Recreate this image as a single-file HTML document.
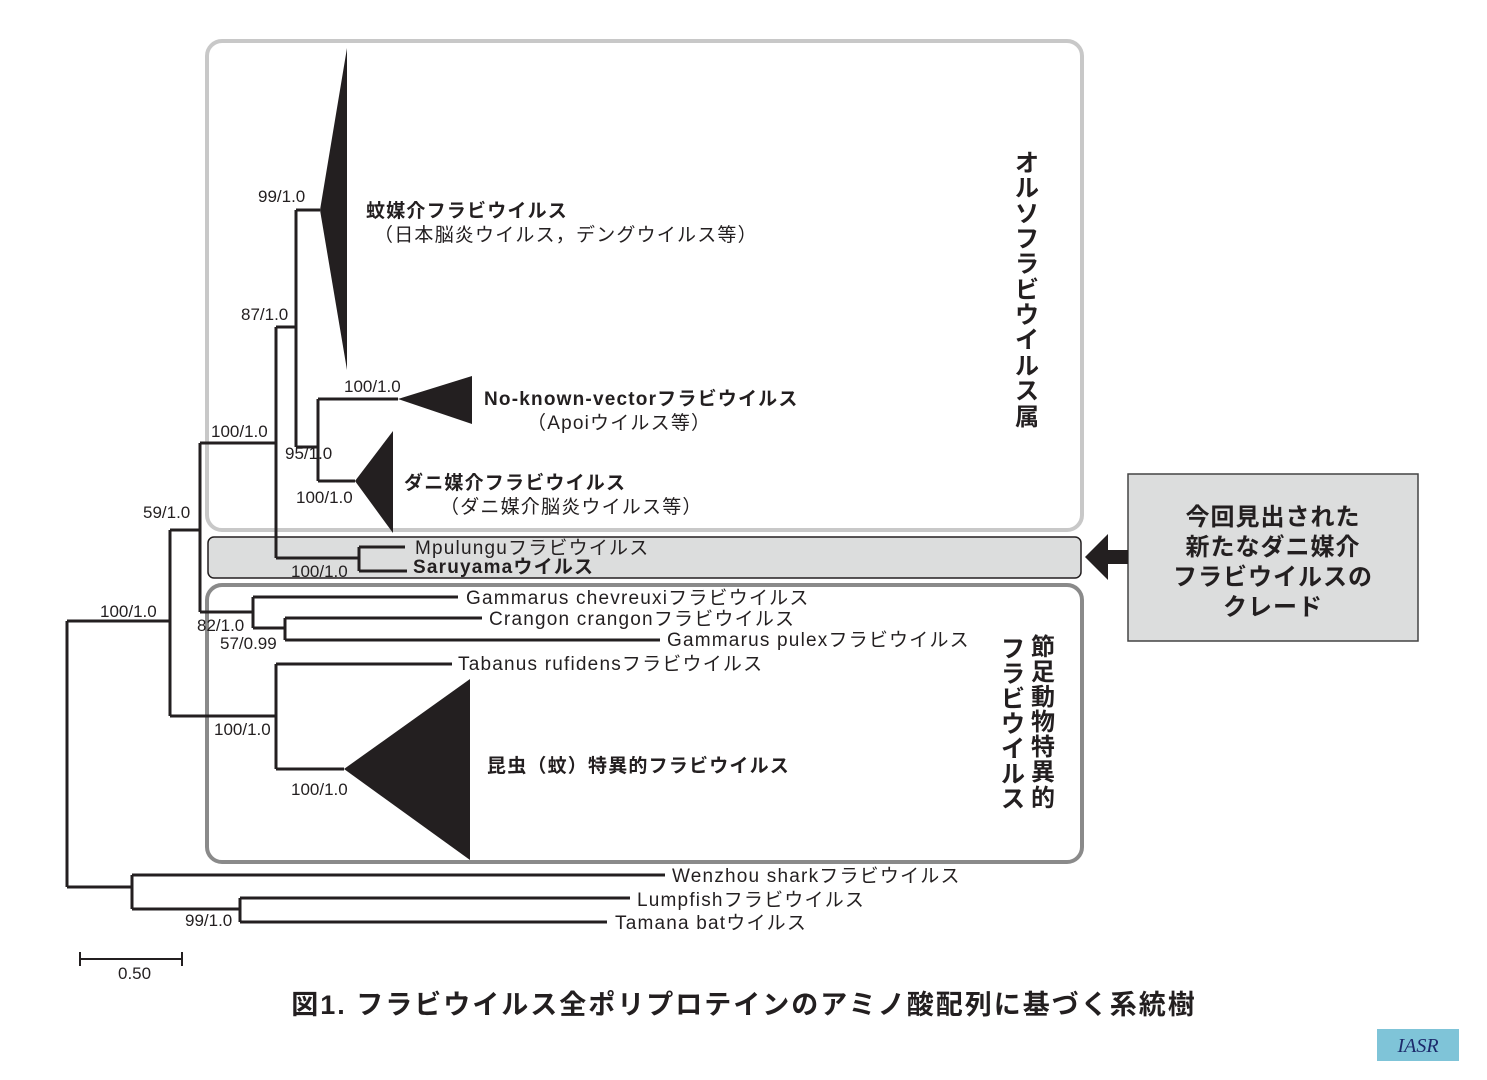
<!DOCTYPE html>
<html><head><meta charset="utf-8"><style>
html,body{margin:0;padding:0;background:#fff;}
svg{display:block;font-family:"Liberation Sans","Noto Sans CJK JP",sans-serif;}
.l{font-size:17px;fill:#231f20;}
.t{font-size:19px;fill:#231f20;letter-spacing:1.2px;}
.b{font-size:19px;font-weight:bold;fill:#231f20;letter-spacing:1.2px;}
.v{font-size:24px;font-weight:bold;fill:#231f20;}
</style></head><body>
<svg width="1487" height="1080" viewBox="0 0 1487 1080" xmlns="http://www.w3.org/2000/svg">
<rect x="207" y="41" width="875" height="489" rx="15" fill="none" stroke="#c8c8c8" stroke-width="4"/>
<rect x="208" y="537" width="873" height="41" rx="6" fill="#dcdddd" stroke="#231f20" stroke-width="1.5"/>
<rect x="207" y="585" width="875" height="277" rx="15" fill="none" stroke="#8a8a8a" stroke-width="4"/>
<rect x="1128" y="474" width="290" height="167" fill="#dcdddd" stroke="#444" stroke-width="1.5"/>
<polygon points="1128,550 1108,550 1108,534 1085,557 1108,580 1108,564 1128,564" fill="#231f20"/>
<g stroke="#231f20" stroke-width="3" fill="none">
<path d="M67,621V887 M67,621H170 M67,887H132"/>
<path d="M170,530V716 M170,530H200 M170,716H276"/>
<path d="M200,443V612 M200,443H276 M200,612H253"/>
<path d="M276,327V558 M276,327H296 M276,558H359"/>
<path d="M296,210V447 M296,210H320 M296,447H318"/>
<path d="M318,399V481 M318,399H398 M318,481H355"/>
<path d="M359,547V571 M359,547H405 M359,571H407"/>
<path d="M253,597V628 M253,597H458 M253,628H285"/>
<path d="M285,618V640 M285,618H482 M285,640H660"/>
<path d="M276,664V769 M276,664H452 M276,769H344"/>
<path d="M132,875V909 M132,875H665 M132,909H240"/>
<path d="M240,898V922 M240,898H630 M240,922H607"/>
<path d="M79,959H183 M80,952V966 M182,952V966" stroke-width="2"/>
</g>
<g fill="#231f20">
<polygon points="320,210 347,48 347,370"/>
<polygon points="398,399 472,376 472,424"/>
<polygon points="355,481 393,431 393,533"/>
<polygon points="344,769 470,679 470,860"/>
</g>
<g class="l">
<text x="258" y="202">99/1.0</text>
<text x="241" y="320">87/1.0</text>
<text x="211" y="437">100/1.0</text>
<text x="344" y="392">100/1.0</text>
<text x="285" y="459">95/1.0</text>
<text x="296" y="503">100/1.0</text>
<text x="143" y="518">59/1.0</text>
<text x="291" y="577">100/1.0</text>
<text x="100" y="617">100/1.0</text>
<text x="197" y="631">82/1.0</text>
<text x="220" y="649">57/0.99</text>
<text x="214" y="735">100/1.0</text>
<text x="291" y="795">100/1.0</text>
<text x="185" y="926">99/1.0</text>
<text x="118" y="979">0.50</text>
</g>
<text class="b" x="366" y="217">蚊媒介フラビウイルス</text>
<text class="t" x="374" y="241">（日本脳炎ウイルス，デングウイルス等）</text>
<text class="b" x="484" y="405">No-known-vectorフラビウイルス</text>
<text class="t" x="527" y="429">（Apoiウイルス等）</text>
<text class="b" x="404" y="489">ダニ媒介フラビウイルス</text>
<text class="t" x="440" y="513">（ダニ媒介脳炎ウイルス等）</text>
<text class="t" x="415" y="554">Mpulunguフラビウイルス</text>
<text class="b" x="413" y="573">Saruyamaウイルス</text>
<text class="t" x="466" y="604">Gammarus chevreuxiフラビウイルス</text>
<text class="t" x="489" y="625">Crangon crangonフラビウイルス</text>
<text class="t" x="667" y="646">Gammarus pulexフラビウイルス</text>
<text class="t" x="458" y="670">Tabanus rufidensフラビウイルス</text>
<text class="b" x="487" y="772">昆虫（蚊）特異的フラビウイルス</text>
<text class="t" x="672" y="882">Wenzhou sharkフラビウイルス</text>
<text class="t" x="637" y="906">Lumpfishフラビウイルス</text>
<text class="t" x="615" y="929">Tamana batウイルス</text>
<g class="v" text-anchor="middle">
<text x="1027" y="171">オ</text><text x="1027" y="196">ル</text><text x="1027" y="222">ソ</text><text x="1027" y="247">フ</text><text x="1027" y="272">ラ</text><text x="1027" y="298">ビ</text><text x="1027" y="323">ウ</text><text x="1027" y="348">イ</text><text x="1027" y="374">ル</text><text x="1027" y="399">ス</text><text x="1027" y="425">属</text>
<text x="1043" y="655">節</text><text x="1043" y="680">足</text><text x="1043" y="705">動</text><text x="1043" y="730">物</text><text x="1043" y="755">特</text><text x="1043" y="780">異</text><text x="1043" y="806">的</text>
<text x="1013" y="657">フ</text><text x="1013" y="682">ラ</text><text x="1013" y="707">ビ</text><text x="1013" y="732">ウ</text><text x="1013" y="757">イ</text><text x="1013" y="782">ル</text><text x="1013" y="807">ス</text>
</g>
<g class="v" text-anchor="middle" style="font-size:24px;letter-spacing:1px">
<text x="1273" y="525">今回見出された</text>
<text x="1273" y="555">新たなダニ媒介</text>
<text x="1273" y="585">フラビウイルスの</text>
<text x="1273" y="615">クレード</text>
</g>
<text x="744" y="1014" text-anchor="middle" style="font-size:27px;font-weight:bold;fill:#231f20;letter-spacing:2px">図1. フラビウイルス全ポリプロテインのアミノ酸配列に基づく系統樹</text>
<rect x="1377" y="1029" width="82" height="32" fill="#7fc4d8"/>
<text x="1418" y="1052" text-anchor="middle" style="font-family:'Liberation Serif',serif;font-style:italic;font-size:20px;fill:#1d2a6b">IASR</text>
</svg>
</body></html>
